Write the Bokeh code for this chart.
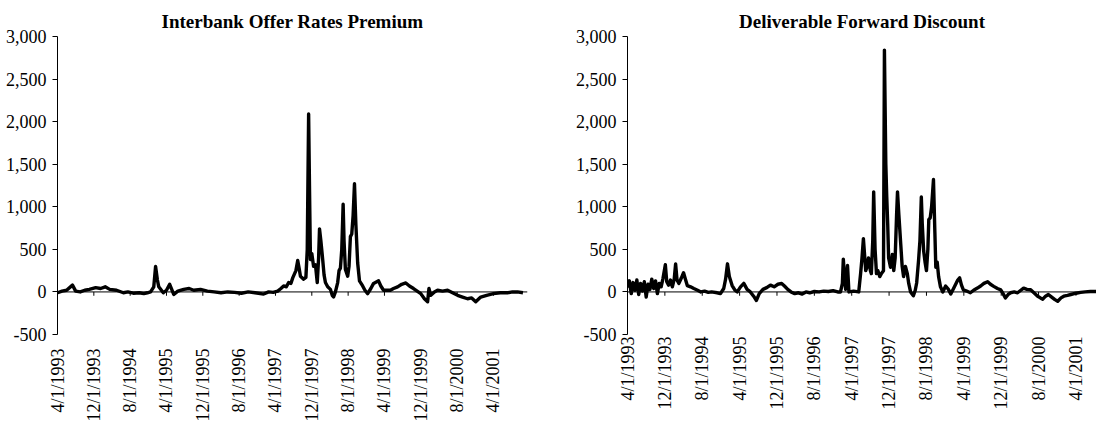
import math
from bokeh.plotting import figure
from bokeh.layouts import row
from bokeh.models import Range1d, FixedTicker, NumeralTickFormatter, Span
from bokeh.embed import file_html
from bokeh.resources import INLINE

# ---- data -------------------------------------------------------------
TICK_LABELS = ["4/1/1993", "12/1/1993", "8/1/1994", "4/1/1995", "12/1/1995",
               "8/1/1996", "4/1/1997", "12/1/1997", "8/1/1998", "4/1/1999",
               "12/1/1999", "8/1/2000", "4/1/2001"]
TICK_MONTHS = [0, 8, 16, 24, 32, 40, 48, 56, 64, 72, 80, 88, 96]   # months since 4/1/1993

Y_TICKS = [-500, 0, 500, 1000, 1500, 2000, 2500, 3000]

# Interbank Offer Rates Premium (months since 4/1993, basis points)
IR_MONTHS = [0, 1, 2, 3.3, 4, 5, 6, 7, 8.4, 9.5, 10.5, 11.5, 13, 14.5, 15.5, 16.7, 18, 19, 19.8,
             20.5, 21.2, 21.6, 22, 22.3, 23.3, 24, 24.7, 25.6, 26.5, 27.8, 29, 30, 31.5, 33,
             34.5, 36, 37.5, 39, 40.5, 42, 43.5, 45.4, 46.5, 47.5, 48.5, 49.2, 49.8, 50.4,
             50.9, 51.4, 51.8, 52.5, 52.9, 53.2, 53.5, 54.2, 54.7, 55.0, 55.3, 55.5, 55.7,
             56.0, 56.4, 56.8, 57.2, 57.5, 57.7, 58.0, 58.4, 58.7, 59.0, 59.5, 60.1, 60.5,
             60.8, 61.2, 61.7, 62.0, 62.3, 62.6, 62.9, 63.1, 63.4, 63.9, 64.2, 64.5, 64.8,
             65.1, 65.4, 65.7, 66.1, 66.5, 67.2, 67.7, 68.3, 69.0, 69.6, 70.7, 71.2, 71.8,
             73.3, 74.0, 74.9, 75.8, 76.7, 77.5, 78.4, 79.2, 80.0, 80.8, 81.5, 81.8, 82.2,
             83.0, 83.7, 84.8, 85.9, 87.0, 88.1, 89.2, 90.3, 91.2, 92.1, 93.2, 94.5, 96,
             97.5, 99.1, 100.2, 101.3, 102.5]
IR_VALUES = [-10, 10, 20, 80, 10, 0, 20, 30, 50, 40, 60, 30, 20, -10, 0, -15, -10, -20, -10,
             0, 60, 300, 140, 60, -10, 20, 90, -30, 10, 30, 40, 20, 30, 10,
             0, -10, 0, -5, -15, 0, -10, -25, 0, -5, 10, 40, 70, 60,
             110, 100, 165, 250, 370, 280, 185, 150, 170, 500, 2090, 1200, 380,
             450, 300, 320, 110, 400, 740, 600, 380, 200, 110, 60, 30, -40,
             -60, 0, 110, 250, 280, 500, 1030, 600, 265, 185, 300, 650, 680,
             900, 1270, 800, 340, 130, 70, 20, -20, 40, 100, 130, 70, 20,
             20, 40, 60, 90, 105, 70, 40, 10, -20, -80, -115, 40, -40,
             0, 20, 10, 20, -10, -40, -60, -80, -70, -115, -60, -40, -20,
             -10, -10, 0, 0, -10]

# Deliverable Forward Discount (months since 4/1993, basis points)
DF_MONTHS = [0, 0.4, 0.8, 1.2, 1.6, 2.0, 2.4, 2.8, 3.2, 3.6, 4.0, 4.4, 4.8, 5.2, 5.6, 6.0, 6.4,
             6.8, 7.2, 7.6, 8.1, 8.4, 8.8, 9.2, 9.6, 10.0, 10.3, 10.6, 11.0, 11.5, 12.0, 12.4,
             12.8, 13.5, 14.2, 15.0, 15.7, 16.5, 17.3, 18.0, 19.2, 19.9, 20.6, 21.0, 21.4,
             21.8, 22.4, 23.0, 23.5, 24.2, 24.9, 25.6, 26.3, 27.0, 27.6, 28.2, 29.0, 29.8,
             30.6, 31.4, 32.2, 33.0, 33.6, 34.3, 35.0, 35.8, 36.6, 37.4, 38.2, 39.0, 40.0,
             41.0, 42.0, 43.0, 44.0, 45.0, 45.6, 46.0, 46.2, 46.5, 46.7, 47.1, 47.4, 48.4,
             49.5, 49.9, 50.2, 50.5, 50.8, 51.0, 51.3, 51.6, 52.0, 52.2, 52.5, 52.7, 53.0,
             53.3, 53.6, 54.0, 54.4, 54.8, 55.0, 55.3, 55.5, 55.7, 55.9, 56.3, 56.7, 57.0,
             57.3, 57.6, 57.8, 58.1, 58.5, 58.8, 59.1, 59.5, 59.9, 60.2, 60.6, 61.2, 61.6,
             61.9, 62.3, 62.6, 62.9, 63.1, 63.4, 63.7, 64.0, 64.3, 64.5, 64.8, 65.1, 65.5,
             65.8, 66.0, 66.3, 66.6, 67.0, 67.5, 68.1, 68.7, 69.2, 69.8, 70.7, 71.1, 71.5,
             71.9, 72.6, 73.4, 74.1, 74.9, 75.6, 76.3, 77.1, 77.7, 78.4, 79.2, 79.9, 80.4,
             80.9, 81.5, 82.0, 82.8, 83.5, 84.2, 84.8, 85.5, 86.3, 87.0, 87.8, 88.4, 88.9,
             89.5, 90.1, 90.8, 91.5, 92.1, 92.8, 93.4, 94.2, 94.9, 96.0, 97.0, 98.0, 99.1,
             100.4, 101.5, 102.5]
DF_VALUES = [50, 130, -20, 110, 20, 140, -30, 100, 10, 120, -60, 90, 30, 150, 40, 130, -20,
             100, 60, 160, 320, 120, 80, 140, 60, 150, 330, 140, 100, 160, 225, 150,
             75, 60, 40, 20, 0, 10, -5, 0, -10, -20, 40, 150, 330,
             180, 75, 20, 0, 60, 100, 30, 0, -50, -100, -20, 30, 50,
             80, 60, 90, 100, 70, 30, 0, -20, -10, -25, 0, -10, 5,
             0, 10, 5, 15, 0, 0, 100, 385, 150, 30, 310, 0, 10,
             0, 215, 400, 625, 400, 250, 300, 400, 250, 215, 600, 1175, 500,
             215, 250, 180, 220, 250, 2840, 1500, 1115, 800, 400, 290, 440, 250,
             400, 900, 1175, 900, 555, 300, 180, 300, 215, 100, 0, -45, 20,
             105, 365, 600, 1115, 800, 480, 350, 250, 500, 850, 870, 1000, 1320,
             700, 290, 350, 180, 60, 0, 70, 30, -25, 40, 140, 165, 80,
             25, 10, -10, 20, 45, 70, 100, 120, 90, 65, 40, 25, -20,
             -70, -30, -10, 0, -10, 20, 45, 30, 25, -10, -50, -70, -85,
             -50, -30, -60, -90, -110, -70, -50, -40, -30, -15, -5, 0, 5,
             5, 0, 5]

FONT = "Liberation Serif"


def make_panel(title, months, values, width, border_left, border_right,
               x_end, border_top, border_bottom, label_standoff, tick_len):
    p = figure(width=width, height=424, output_backend="svg", toolbar_location=None,
               x_range=Range1d(0, x_end), y_range=Range1d(-500, 3000),
               min_border_left=border_left, min_border_right=border_right,
               min_border_top=border_top, min_border_bottom=border_bottom,
               background_fill_color="white", border_fill_color="white")
    p.outline_line_color = None
    p.grid.visible = False

    p.title.text = title
    p.title.text_font = FONT
    p.title.text_font_size = "19px"
    p.title.text_font_style = "bold"
    p.title.text_color = "black"
    p.title.align = "center"
    p.title.standoff = 9

    # y axis
    ya = p.yaxis[0]
    ya.ticker = FixedTicker(ticks=Y_TICKS)
    ya.formatter = NumeralTickFormatter(format="0,0")
    ya.major_label_text_font = FONT
    ya.major_label_text_font_size = "18px"
    ya.major_label_text_color = "black"
    ya.axis_line_color = "black"
    ya.axis_line_width = 1
    ya.major_tick_line_color = "black"
    ya.major_tick_out = 5
    ya.major_tick_in = 0
    ya.minor_tick_line_color = None
    ya.major_label_standoff = 6

    # x axis: only labels at the bottom
    xa = p.xaxis[0]
    xa.ticker = FixedTicker(ticks=TICK_MONTHS)
    xa.major_label_overrides = {m: lab for m, lab in zip(TICK_MONTHS, TICK_LABELS)}
    xa.major_label_orientation = math.pi / 2
    xa.major_label_text_font = FONT
    xa.major_label_text_font_size = "18px"
    xa.major_label_text_color = "black"
    xa.axis_line_color = None
    xa.major_tick_line_color = None
    xa.minor_tick_line_color = None
    xa.major_tick_out = 0
    xa.major_tick_in = 0
    xa.axis_label_standoff = 0
    xa.major_label_standoff = label_standoff

    # zero line with tick marks (category axis crossing at 0)
    p.add_layout(Span(location=0, dimension="width", line_color="black", line_width=1))
    p.segment(x0=TICK_MONTHS, x1=TICK_MONTHS, y0=[0] * len(TICK_MONTHS),
              y1=[-tick_len] * len(TICK_MONTHS), line_color="black", line_width=1)

    p.line(months, values, line_color="black", line_width=3.4, line_join="round")
    return p


p1 = make_panel("Interbank Offer Rates Premium", IR_MONTHS, IR_VALUES,
                width=546, border_left=57, border_right=19, x_end=103.5,
                border_top=35, border_bottom=88, label_standoff=14, tick_len=45)
p2 = make_panel("Deliverable Forward Discount", DF_MONTHS, DF_VALUES,
                width=550, border_left=81, border_right=0, x_end=100.4,
                border_top=36, border_bottom=76, label_standoff=2, tick_len=45)

layout = row(p1, p2)
open("out.html", "w").write(file_html(layout, INLINE))
